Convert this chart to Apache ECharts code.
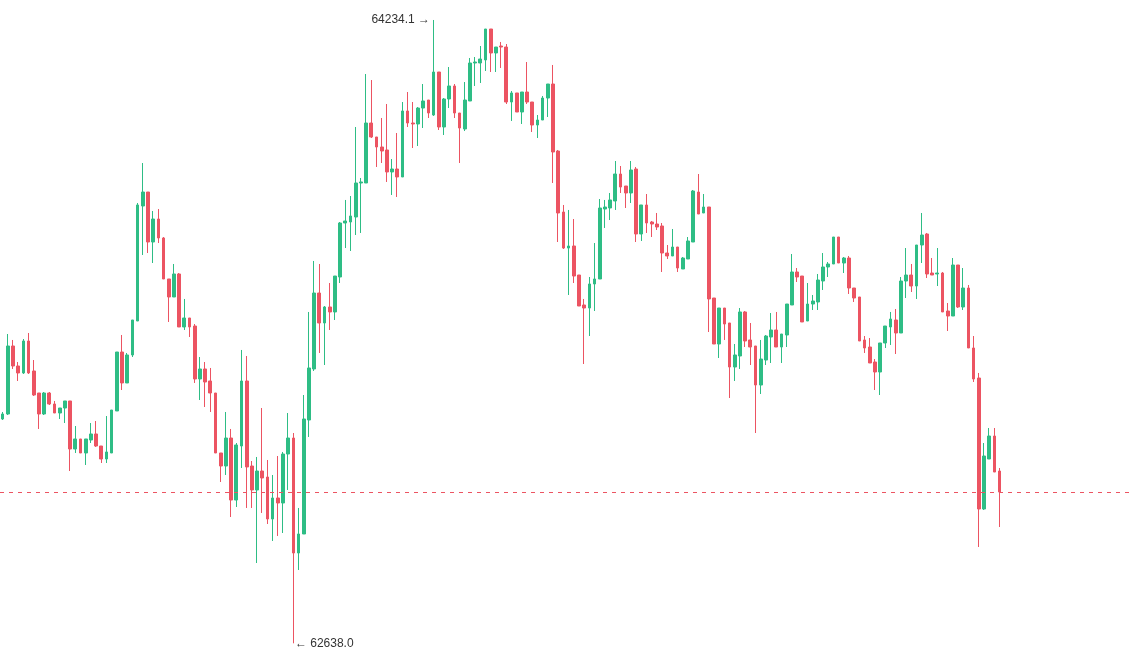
<!DOCTYPE html>
<html>
<head>
<meta charset="utf-8">
<title>K-line</title>
<script src="https://cdn.jsdelivr.net/npm/echarts@6/dist/echarts.min.js"></script>
<style>
  html, body { margin: 0; padding: 0; background: #fff; }
  #chart { width: 1132px; height: 672px; }
</style>
</head>
<body>
<div id="chart"></div>
<script>
// OHLC, one value per candle (193 candles)
const openPrices = [
  63212.4, 63225.2, 63399.3, 63348.1, 63330.2, 63412.1, 63335.3, 63278.9, 63225.2, 63278.9,
  63250.8, 63227.7, 63240.5, 63258.5, 63135.5, 63161.2, 63125.3, 63158.6, 63174.0, 63143.2,
  63109.9, 63125.3, 63232.9, 63383.9, 63304.6, 63376.3, 63463.3, 63757.8, 63793.6, 63665.6,
  63724.5, 63675.9, 63570.9, 63524.8, 63583.7, 63448.0, 63471.0, 63450.5, 63314.8, 63340.4,
  63309.7, 63278.9, 63125.3, 63092.0, 63163.7, 63004.9, 63143.2, 63309.7, 63092.0, 63030.6,
  63079.2, 63063.8, 62956.3, 63010.1, 62997.3, 63122.7, 63163.7, 62869.2, 62917.9, 63209.8,
  63340.4, 63535.0, 63458.2, 63499.2, 63486.4, 63576.0, 63714.3, 63716.8, 63729.6, 63816.7,
  63816.7, 63970.3, 63934.5, 63908.9, 63901.2, 63844.9, 63852.5, 63832.1, 64001.1, 63970.3,
  63967.8, 64008.7, 64029.2, 63990.8, 64100.9, 63960.1, 64031.8, 64065.1, 63995.9, 63955.0,
  64026.7, 64124.0, 64124.0, 64131.7, 64211.0, 64149.6, 64167.5, 64164.9, 64024.1, 64047.2,
  63998.5, 64049.7, 64024.1, 63965.2, 63978.0, 64034.3, 64070.2, 63898.6, 63742.4, 63650.2,
  63655.4, 63581.1, 63504.3, 63496.6, 63558.1, 63570.9, 63750.1, 63752.7, 63770.6, 63839.7,
  63809.0, 63791.1, 63852.5, 63686.1, 63760.4, 63716.8, 63711.7, 63706.6, 63637.4, 63629.8,
  63652.8, 63596.5, 63622.1, 63665.6, 63793.6, 63739.9, 63755.2, 63522.2, 63404.4, 63496.6,
  63458.2, 63345.5, 63373.7, 63486.4, 63414.7, 63399.3, 63299.4, 63363.4, 63422.3, 63440.3,
  63396.7, 63427.5, 63504.3, 63588.8, 63578.5, 63463.3, 63506.8, 63512.0, 63565.7, 63601.6,
  63609.3, 63678.4, 63611.8, 63624.6, 63547.8, 63524.8, 63414.7, 63396.7, 63358.3, 63332.7,
  63407.0, 63448.0, 63465.9, 63432.6, 63565.7, 63581.1, 63552.9, 63657.9, 63686.1, 63586.2,
  63583.7, 63586.2, 63488.9, 63476.1, 63606.7, 63499.2, 63547.8, 63394.2, 63317.3, 62981.9,
  63109.9, 63168.8, 63079.2
];
const closePrices = [
  63225.2, 63399.3, 63348.1, 63330.2, 63412.1, 63330.2, 63273.8, 63225.2, 63278.9, 63250.8,
  63227.7, 63240.5, 63258.5, 63135.5, 63161.2, 63125.3, 63161.2, 63174.0, 63143.2, 63109.9,
  63127.9, 63235.4, 63383.9, 63304.6, 63376.3, 63465.9, 63760.4, 63793.6, 63665.6, 63724.5,
  63675.9, 63570.9, 63524.8, 63583.7, 63448.0, 63471.0, 63448.0, 63314.8, 63340.4, 63307.1,
  63278.9, 63125.3, 63092.0, 63163.7, 63004.9, 63145.8, 63309.7, 63089.5, 63030.6, 63079.2,
  63061.3, 62956.3, 63010.1, 62997.3, 63122.7, 63163.7, 62869.2, 62917.9, 63212.4, 63343.0,
  63535.0, 63458.2, 63499.2, 63486.4, 63578.5, 63714.3, 63719.4, 63732.2, 63816.7, 63819.3,
  63970.3, 63934.5, 63908.9, 63898.6, 63844.9, 63852.5, 63832.1, 64001.1, 63970.3, 63967.8,
  64008.7, 64026.7, 63995.9, 64100.9, 63960.1, 64031.8, 64065.1, 63995.9, 63957.5, 64029.2,
  64124.0, 64126.5, 64134.2, 64211.0, 64149.6, 64164.9, 64164.9, 64024.1, 64047.2, 63998.5,
  64049.7, 64024.1, 63965.2, 63978.0, 64034.3, 64070.2, 63896.1, 63739.9, 63650.2, 63655.4,
  63578.5, 63501.7, 63496.6, 63558.1, 63570.9, 63752.7, 63755.2, 63773.2, 63839.7, 63806.4,
  63791.1, 63850.0, 63686.1, 63760.4, 63714.3, 63711.7, 63704.0, 63637.4, 63629.8, 63652.8,
  63599.0, 63624.6, 63668.2, 63796.2, 63737.3, 63755.2, 63519.7, 63404.4, 63496.6, 63455.6,
  63345.5, 63376.3, 63486.4, 63412.1, 63396.7, 63299.4, 63366.0, 63424.9, 63440.3, 63396.7,
  63430.0, 63506.8, 63588.8, 63576.0, 63460.8, 63506.8, 63514.5, 63568.3, 63601.6, 63609.3,
  63678.4, 63611.8, 63624.6, 63547.8, 63522.2, 63412.1, 63394.2, 63355.8, 63332.7, 63407.0,
  63450.5, 63468.4, 63432.6, 63565.7, 63581.1, 63552.9, 63657.9, 63683.5, 63583.7, 63581.1,
  63586.2, 63486.4, 63476.1, 63606.7, 63499.2, 63547.8, 63394.2, 63314.8, 62981.9, 63117.6,
  63168.8, 63076.6, 63025.4
];
const lowPrices = [
  63209.8, 63222.6, 63340.4, 63309.7, 63327.6, 63327.6, 63271.3, 63186.8, 63222.6, 63248.2,
  63227.7, 63212.4, 63202.1, 63079.2, 63125.3, 63125.3, 63094.6, 63150.9, 63140.7, 63099.7,
  63099.7, 63125.3, 63232.9, 63286.6, 63304.6, 63371.1, 63463.3, 63632.3, 63637.4, 63611.8,
  63663.0, 63570.9, 63460.8, 63524.8, 63448.0, 63440.3, 63422.3, 63304.6, 63261.0, 63243.1,
  63230.3, 63125.3, 63051.0, 63069.0, 62961.4, 62987.0, 63086.9, 62984.5, 62984.5, 62843.6,
  62971.7, 62943.5, 62900.0, 62912.8, 62920.4, 63030.6, 62638.0, 62825.7, 62917.9, 63166.3,
  63335.3, 63381.4, 63350.6, 63440.3, 63465.9, 63560.6, 63650.2, 63642.6, 63683.5, 63688.7,
  63816.7, 63931.9, 63857.7, 63867.9, 63819.3, 63786.0, 63780.8, 63832.1, 63960.1, 63906.3,
  63911.4, 63957.5, 63983.1, 63988.3, 63952.4, 63939.6, 64008.7, 63983.1, 63867.9, 63949.8,
  64026.7, 64065.1, 64072.8, 64103.5, 64100.9, 64100.9, 64111.2, 64019.0, 63975.5, 63998.5,
  63967.8, 64019.0, 63947.3, 63931.9, 63978.0, 63985.7, 63816.7, 63665.6, 63647.7, 63529.9,
  63560.6, 63501.7, 63353.2, 63424.9, 63488.9, 63570.9, 63701.5, 63721.9, 63747.6, 63791.1,
  63752.7, 63765.5, 63665.6, 63668.2, 63688.7, 63678.4, 63696.3, 63588.8, 63622.1, 63629.8,
  63588.8, 63596.5, 63622.1, 63665.6, 63737.3, 63739.9, 63435.1, 63404.4, 63368.6, 63414.7,
  63266.1, 63309.7, 63340.4, 63396.7, 63350.6, 63176.5, 63276.4, 63350.6, 63355.8, 63396.7,
  63355.8, 63396.7, 63504.3, 63563.2, 63460.8, 63463.3, 63491.5, 63491.5, 63542.7, 63576.0,
  63609.3, 63611.8, 63586.2, 63532.5, 63512.0, 63412.1, 63381.4, 63355.8, 63286.6, 63273.8,
  63394.2, 63401.9, 63378.8, 63432.6, 63522.2, 63537.6, 63519.7, 63611.8, 63573.4, 63581.1,
  63552.9, 63486.4, 63437.7, 63476.1, 63496.6, 63491.5, 63394.2, 63307.1, 62884.6, 62979.4,
  63109.9, 63076.6, 62935.8
];
const highPrices = [
  63230.3, 63430.0, 63414.7, 63358.3, 63417.2, 63432.6, 63363.4, 63278.9, 63281.5, 63281.5,
  63258.5, 63240.5, 63258.5, 63258.5, 63194.4, 63161.2, 63161.2, 63202.1, 63207.2, 63143.2,
  63220.0, 63235.4, 63383.9, 63427.5, 63381.4, 63465.9, 63765.5, 63867.9, 63793.6, 63745.0,
  63750.1, 63678.4, 63570.9, 63609.3, 63586.2, 63519.7, 63471.0, 63455.6, 63371.1, 63358.3,
  63343.0, 63278.9, 63125.3, 63230.3, 63186.8, 63150.9, 63389.1, 63373.7, 63104.8, 63115.1,
  63240.5, 63107.4, 63069.0, 63117.6, 63127.9, 63227.7, 63176.5, 62984.5, 63273.8, 63486.4,
  63617.0, 63609.3, 63501.7, 63560.6, 63578.5, 63716.8, 63773.2, 63783.4, 63960.1, 63829.5,
  64095.8, 64080.4, 63934.5, 63983.1, 64019.0, 63878.1, 63944.7, 64024.1, 64049.7, 64024.1,
  64011.3, 64070.2, 64029.2, 64234.1, 64100.9, 64034.3, 64113.7, 64070.2, 63995.9, 64075.3,
  64136.8, 64139.3, 64167.5, 64211.0, 64211.0, 64164.9, 64177.8, 64172.6, 64052.3, 64047.2,
  64049.7, 64126.5, 64024.1, 63990.8, 64039.5, 64070.2, 64118.9, 63901.2, 63760.4, 63747.6,
  63724.5, 63581.1, 63519.7, 63576.0, 63663.0, 63775.7, 63773.2, 63791.1, 63873.0, 63860.2,
  63809.0, 63873.0, 63857.7, 63760.4, 63788.5, 63719.4, 63739.9, 63714.3, 63657.9, 63698.9,
  63652.8, 63627.2, 63678.4, 63798.8, 63839.7, 63788.5, 63755.2, 63522.2, 63496.6, 63496.6,
  63458.2, 63404.4, 63496.6, 63488.9, 63458.2, 63399.3, 63414.7, 63427.5, 63483.8, 63486.4,
  63430.0, 63506.8, 63634.9, 63599.0, 63578.5, 63560.6, 63529.9, 63583.7, 63637.4, 63614.4,
  63678.4, 63678.4, 63627.2, 63629.8, 63547.8, 63524.8, 63424.9, 63419.8, 63366.0, 63407.0,
  63450.5, 63486.4, 63494.0, 63576.0, 63650.2, 63609.3, 63657.9, 63739.9, 63688.7, 63624.6,
  63650.2, 63588.8, 63509.4, 63624.6, 63606.7, 63599.0, 63555.5, 63424.9, 63330.2, 63150.9,
  63189.3, 63189.3, 63086.9
];

// 空白的右侧留白（25 根空位）
const emptySlots = 25;
const categories = [];
for (let i = 0; i < openPrices.length + emptySlots; i++) {
  categories.push(String(i + 1));
}

const upColor = '#2ebd85';
const downColor = '#ec5462';

const candleData = openPrices.map((o, i) => [o, closePrices[i], lowPrices[i], highPrices[i]]);
const lastClose = closePrices[closePrices.length - 1];

const myChart = echarts.init(document.getElementById('chart'));

const option = {
  animation: false,
  backgroundColor: '#ffffff',
  grid: {
    left: -3,
    right: 0,
    top: 0,
    bottom: 0
  },
  xAxis: {
    type: 'category',
    data: categories,
    show: false,
    boundaryGap: true
  },
  yAxis: {
    type: 'value',
    show: false,
    min: 62564.5,
    max: 64285.3,
    splitLine: { show: false }
  },
  series: [
    {
      type: 'candlestick',
      data: candleData,
      barWidth: 3.2,
      itemStyle: {
        color: upColor,
        color0: downColor,
        borderColor: upColor,
        borderColor0: downColor,
        borderWidth: 1
      },
      markPoint: {
        symbol: 'circle',
        symbolSize: 1,
        itemStyle: { color: 'rgba(0,0,0,0)' },
        label: {
          show: true,
          color: '#333',
          fontSize: 12,
          fontFamily: '"Liberation Sans", Arial, sans-serif'
        },
        data: [
          {
            type: 'max',
            valueDim: 'highest',
            label: {
              position: 'left',
              distance: 3,
              formatter: (p) => Number(p.value).toFixed(1) + ' →'
            }
          },
          {
            type: 'min',
            valueDim: 'lowest',
            label: {
              position: 'right',
              distance: 1,
              formatter: (p) => '← ' + Number(p.value).toFixed(1)
            }
          }
        ]
      },
      markLine: {
        silent: true,
        symbol: ['none', 'none'],
        label: { show: false },
        lineStyle: {
          color: downColor,
          type: [4, 5],
          width: 1
        },
        data: [{ yAxis: lastClose }]
      }
    }
  ]
};

myChart.setOption(option);
window.addEventListener('resize', () => myChart.resize());
</script>
</body>
</html>
